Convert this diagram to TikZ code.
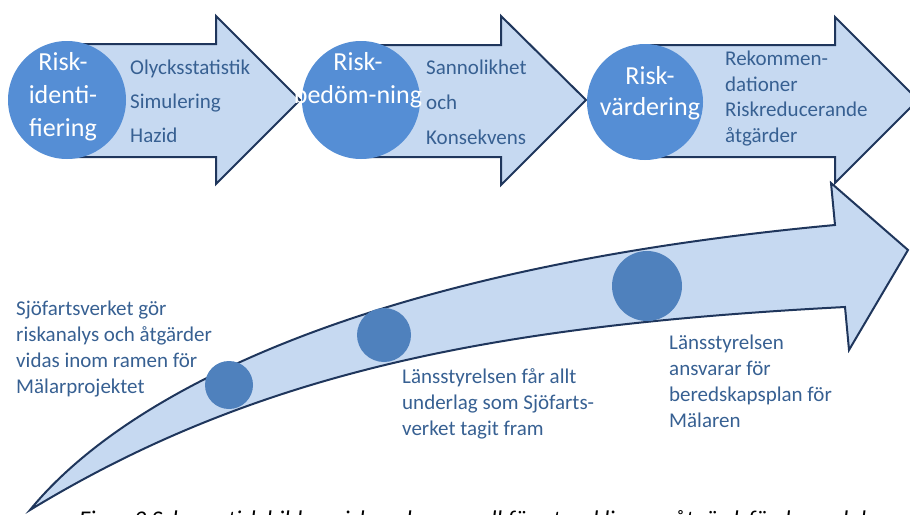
\documentclass[tikz,border=0pt]{standalone}
\usepackage{fontspec}
\setmainfont{Carlito}
\definecolor{arrowfill}{RGB}{198,217,241}
\definecolor{arrowline}{RGB}{31,54,92}
\definecolor{topdisc}{RGB}{85,142,213}
\definecolor{lowdisc}{RGB}{79,129,189}
\definecolor{textblue}{RGB}{55,96,146}

\begin{document}
\begin{tikzpicture}[x=1pt, y=-1pt,
  bigarrow/.style={fill=arrowfill, draw=arrowline, line width=2pt},
  phase/.style={circle, fill=topdisc, inner sep=0pt, minimum size=118pt},
  phasetext/.style={text=white, align=center, inner sep=0pt, font=\fontsize{26}{33}\selectfont},
  stage/.style={circle, fill=lowdisc, inner sep=0pt},
  note/.style={text=textblue, align=left, inner sep=0pt, anchor=west, font=\fontsize{21}{26}\selectfont}]
  \useasboundingbox (0,0) rectangle (910,514);

  % top row of arrows
  \draw[bigarrow] (67,44) -- (216,44) -- (216,16) -- (300,100) -- (216,184) -- (216,157) -- (67,157) -- cycle;
  \draw[bigarrow] (361,45) -- (501,45) -- (501,16) -- (586,100) -- (501,185) -- (501,157) -- (361,157) -- cycle;
  \draw[bigarrow] (645,45) -- (835,45) -- (835,17) -- (918,100) -- (835,183) -- (835,157) -- (645,157) -- cycle;

  % long curved arrow
  \draw[bigarrow] (30,510) .. controls (120,400) and (350,270) .. (835,225) -- (831,183) -- (908,250)
       -- (849,350) -- (845,307) .. controls (500,325) and (260,370) .. (30,510) -- cycle;

  \node[phase] (riskid) at (67,100) {};
  \node[phase] (riskbed) at (361,100) {};
  \node[phase, minimum size=116pt] (riskvar) at (645,102) {};

  \node[phasetext] (riskidtxt) at (63,97) {Risk-\\identi-\\fiering};
  \node[phasetext] (riskbedtxt) at (358,80) {Risk-\\bedöm-ning};
  \node[phasetext, font=\fontsize{26}{31}\selectfont] (riskvartxt) at (650,93.5) {Risk-\\värdering};

  \node[note, font=\fontsize{21}{34}\selectfont] (idtools) at (130,101) {Olycksstatistik\\Simulering\\Hazid};
  \node[note, font=\fontsize{21}{35}\selectfont] (bedtools) at (426,102) {Sannolikhet\\och\\Konsekvens};
  \node[note, font=\fontsize{21}{25.7}\selectfont] (vartools) at (725,98.5) {Rekommen-\\dationer\\Riskreducerande\\åtgärder};

  % steps on the curved arrow
  \node[stage, minimum size=48pt] (sjofart) at (229,385) {};
  \node[stage, minimum size=54pt] (lansunder) at (384,335) {};
  \node[stage, minimum size=70pt] (lansplan) at (647,286) {};

  \node[note] (sjofarttxt) at (16,349) {Sjöfartsverket gör\\riskanalys och åtgärder\\vidas inom ramen för\\Mälarprojektet};
  \node[note] (lansundertxt) at (402,404) {Länsstyrelsen får allt\\underlag som Sjöfarts-\\verket tagit fram};
  \node[note] (lansplantxt) at (669,381) {Länsstyrelsen\\ansvarar för\\beredskapsplan för\\Mälaren};

  \node[anchor=base west, inner sep=0pt, font=\fontsize{24}{29}\selectfont\itshape] (caption) at (79,527)
       {Figur 2 Schematisk bild av riskanalysens roll för utveckling av åtgärdsförslag och bered};
\end{tikzpicture}
\end{document}
